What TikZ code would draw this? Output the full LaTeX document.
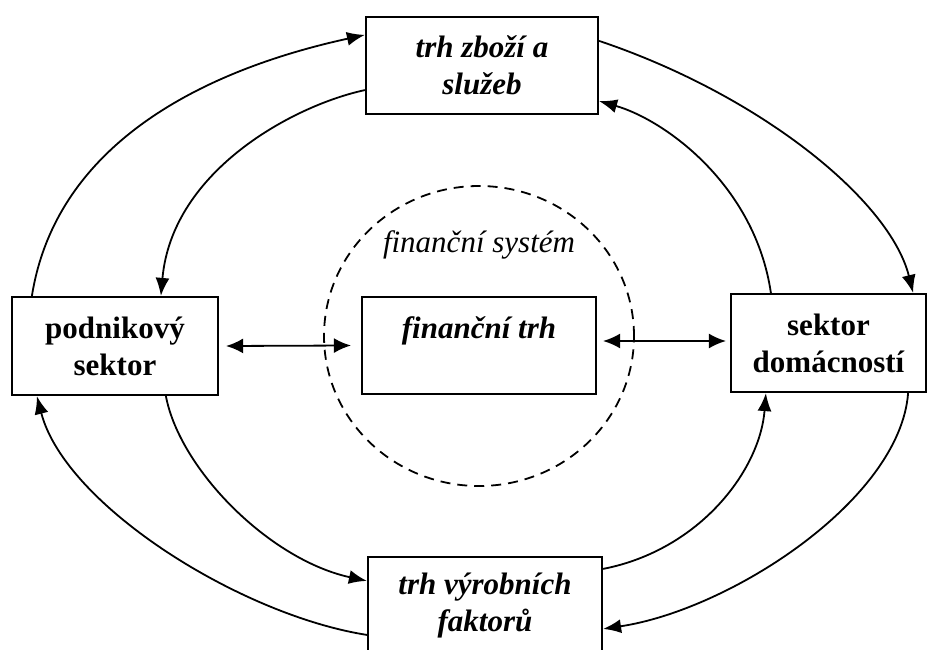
\documentclass[tikz,border=0pt]{standalone}
\usepackage{fontspec}
\setmainfont{Liberation Serif}
\usetikzlibrary{arrows.meta,calc,shapes.geometric}
\begin{document}
\begin{tikzpicture}[x=1pt,y=-1pt,
  box/.style={draw, line width=2.2pt, inner sep=0pt, align=center,
    font=\bfseries\itshape\fontsize{31}{37}\selectfont},
  boxup/.style={box, font=\bfseries\fontsize{31}{37}\selectfont},
  flow/.style={line width=1.8pt, -{Latex[length=18pt,width=14pt]}},
  dbl/.style={line width=1.8pt, {Latex[length=17pt,width=15pt]}-{Latex[length=17pt,width=15pt]}},
  sysring/.style={draw, dash pattern=on 10pt off 7pt, line width=1.8pt, ellipse, inner sep=0pt}
]
\useasboundingbox (0,0) rectangle (927,650);

\node[sysring, minimum width=310pt, minimum height=300pt] (sys) at (479,336) {};
\node[font=\itshape\fontsize{31}{37}\selectfont] (syslabel) at (479,245) {finanční systém};

\node[box, minimum width=232pt, minimum height=97pt] (T) at (482,65.5) {trh zboží a\\služeb};
\node[boxup, minimum width=206pt, minimum height=98pt] (L) at (115,346) {podnikový\\sektor};
\node[box, minimum width=234pt, minimum height=97pt] (C) at (479,345.5) {finanční trh\\[-1pt]\mbox{}};
\node[boxup, minimum width=195pt, minimum height=98pt] (R) at (828.5,343) {sektor\\domácností};
\node[box, minimum width=234pt, minimum height=97pt] (B) at (485,605.5) {trh výrobních\\faktorů};

\draw[dbl] ($(L.east)+(7,0)$) -- ($(C.west)+(-10,0)$);
\draw[dbl] ($(C.east)+(6,-4.5)$) -- ($(R.west)+(-4,-2)$);

\draw[flow] ($(L.north west)+(21,0)$) .. controls (60,120) and (250,60) .. ($(T.north west)+(0,19)$);
\draw[flow] ($(T.south west)+(0,-25)$) .. controls (295,105) and (172,170) .. ($(L.north west)+(150,0)$);
\draw[flow] ($(T.north east)+(0,25)$) .. controls (760,95) and (890,200) .. ($(R.north east)+(-14,0)$);
\draw[flow] ($(R.north west)+(41,0)$) .. controls (755,185) and (665,120) .. ($(T.south east)+(0,-14)$);
\draw[flow] ($(B.north west)+(0,79)$) .. controls (240,615) and (65,505) .. ($(L.south west)+(26,0)$);
\draw[flow] ($(L.south west)+(155,0)$) .. controls (180,470) and (270,560) .. ($(B.north west)+(0,25)$);
\draw[flow] ($(R.south east)+(-19,0)$) .. controls (900,500) and (730,610) .. ($(B.north east)+(0,73)$);
\draw[flow] ($(B.north east)+(0,13)$) .. controls (700,550) and (760,470) .. ($(R.south west)+(36,0)$);
\end{tikzpicture}
\end{document}
